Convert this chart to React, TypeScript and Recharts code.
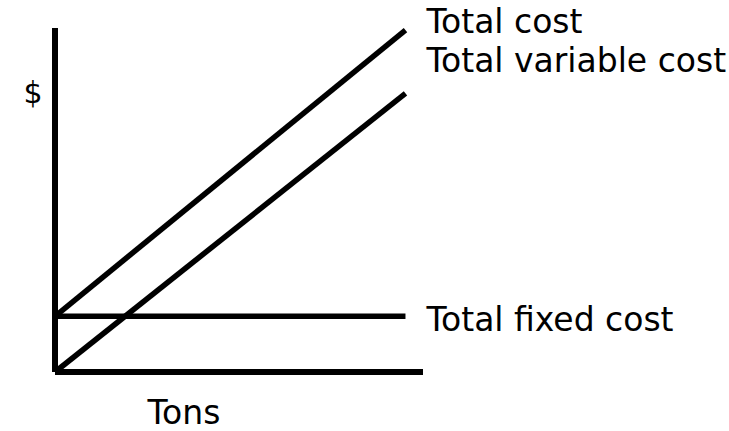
import { LineChart, Line, XAxis, YAxis, Label, LabelList } from "recharts";

const tons = [0, 10];
const totalCost = [1.62, 9.94];
const totalVariableCost = [0, 8.1];
const totalFixedCost = [1.62, 1.62];

const seriesNames = ["Total cost", "Total variable cost", "Total fixed cost"];

const data = tons.map((t, i) => ({
  tons: t,
  tc: totalCost[i],
  tvc: totalVariableCost[i],
  tfc: totalFixedCost[i],
}));

const font = "'DejaVu Sans', Verdana, sans-serif";

function endLabel(text: string, dy: number) {
  return (props: any) => {
    const { x, y, index } = props;
    if (index !== data.length - 1) return null;
    return (
      <text x={x + 21} y={y + dy} fontSize={33} fontFamily={font} fill="#000">
        {text}
      </text>
    );
  };
}

export default function App() {
  return (
    <div style={{ position: "absolute", left: 0, top: 0, background: "#fff" }}>
      <LineChart
        width={729}
        height={431}
        data={data}
        margin={{ top: 28, right: 306, left: 54, bottom: 58 }}
      >
        <XAxis
          dataKey="tons"
          type="number"
          domain={[0, 10.5]}
          tick={false}
          tickLine={false}
          height={1}
          axisLine={{ stroke: "#000", strokeWidth: 6 }}
        >
          <Label
            content={(p: any) => (
              <text
                x={p.viewBox.x + 129}
                y={p.viewBox.y + 52}
                textAnchor="middle"
                fontSize={33}
                fontFamily={font}
                fill="#000"
              >
                Tons
              </text>
            )}
          />
        </XAxis>
        <YAxis
          type="number"
          domain={[0, 10]}
          tick={false}
          tickLine={false}
          width={1}
          axisLine={{ stroke: "#000", strokeWidth: 6 }}
        >
          <Label
            content={(p: any) => (
              <text
                x={p.viewBox.x + p.viewBox.width - 22}
                y={p.viewBox.y + 75}
                textAnchor="middle"
                fontSize={30}
                fontFamily={font}
                fill="#000"
              >
                $
              </text>
            )}
          />
        </YAxis>
        <Line
          dataKey="tc"
          stroke="#000"
          strokeWidth={5.5}
          dot={false}
          isAnimationActive={false}
        >
          <LabelList content={endLabel(seriesNames[0], 3)} />
        </Line>
        <Line
          dataKey="tvc"
          stroke="#000"
          strokeWidth={5.5}
          dot={false}
          isAnimationActive={false}
        >
          <LabelList content={endLabel(seriesNames[1], -21)} />
        </Line>
        <Line
          dataKey="tfc"
          stroke="#000"
          strokeWidth={5.5}
          dot={false}
          isAnimationActive={false}
        >
          <LabelList content={endLabel(seriesNames[2], 15)} />
        </Line>
      </LineChart>
    </div>
  );
}
